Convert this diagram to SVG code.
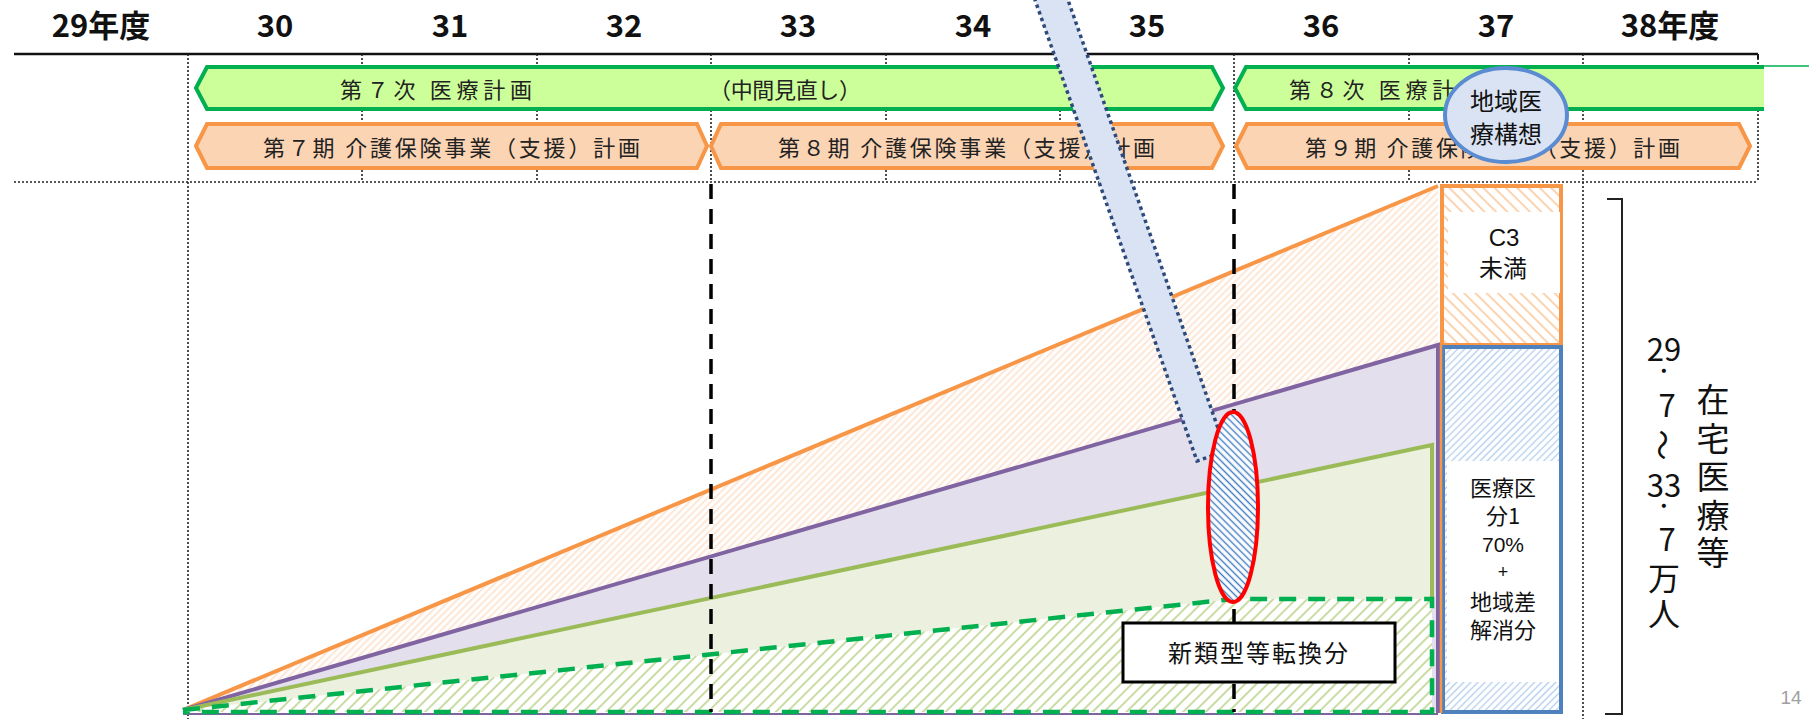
<svg xmlns="http://www.w3.org/2000/svg" width="1809" height="720" viewBox="0 0 1809 720">
<style>
.hdr{font-family:"Noto Sans CJK JP","Noto Sans",sans-serif;font-weight:bold;font-size:31px;fill:#111;text-anchor:middle}
.bt{font-family:"Noto Sans CJK JP","Noto Sans",sans-serif;font-size:22px;fill:#222;dominant-baseline:central}
.jt{font-family:"Noto Sans CJK JP","Noto Sans",sans-serif;fill:#111;text-anchor:middle}
.lat{font-family:"Liberation Sans",Arial,sans-serif}
.dot{stroke:#222;stroke-width:1.6;stroke-dasharray:2 2;fill:none}
.bdash{stroke:#000;stroke-width:3.5;stroke-dasharray:15 10;fill:none}
.gbar{fill:#ccff99;stroke:#00b050;stroke-width:4;stroke-linejoin:miter}
.obar{fill:#fbd4b4;stroke:#f79646;stroke-width:4;stroke-linejoin:miter}
</style>
<defs>
<pattern id="hOr" patternUnits="userSpaceOnUse" width="5" height="5" patternTransform="rotate(45)"><rect width="5" height="5" fill="#fff"/><line x1="2.5" y1="0" x2="2.5" y2="5" stroke="#fde0ca" stroke-width="1.6"/></pattern>
<pattern id="hC3" patternUnits="userSpaceOnUse" width="8" height="8" patternTransform="rotate(-45)"><rect width="8" height="8" fill="#fff"/><line x1="4" y1="0" x2="4" y2="8" stroke="#fbd3b0" stroke-width="2"/></pattern>
<pattern id="hGr" patternUnits="userSpaceOnUse" width="8" height="8" patternTransform="rotate(45)"><rect width="8" height="8" fill="#fff"/><line x1="4" y1="0" x2="4" y2="8" stroke="#c9dca3" stroke-width="2"/></pattern>
<pattern id="hBl" patternUnits="userSpaceOnUse" width="5" height="5" patternTransform="rotate(45)"><rect width="5" height="5" fill="#fff"/><line x1="2.5" y1="0" x2="2.5" y2="5" stroke="#b3cdee" stroke-width="1.3"/></pattern>
<pattern id="hBd" patternUnits="userSpaceOnUse" width="5" height="5" patternTransform="rotate(-45)"><rect width="5" height="5" fill="#fff"/><line x1="2.5" y1="0" x2="2.5" y2="5" stroke="#3f7cc2" stroke-width="1.4"/></pattern>
</defs>
<rect width="1809" height="720" fill="#fff"/>

<g id="grid">
<line x1="14" y1="54" x2="1758" y2="54" stroke="#111" stroke-width="2.5"/>
<line x1="1758" y1="54" x2="1758" y2="59" stroke="#111" stroke-width="2"/>
<line class="dot" x1="14" y1="182" x2="1758" y2="182"/>
<line class="dot" x1="1758" y1="54" x2="1758" y2="182"/>
<line class="dot" x1="188" y1="54" x2="188" y2="719"/>
<line class="dot" x1="1583" y1="54" x2="1583" y2="719"/>
<line class="dot" x1="362" y1="54" x2="362" y2="182"/>
<line class="dot" x1="537" y1="54" x2="537" y2="182"/>
<line class="dot" x1="711" y1="54" x2="711" y2="182"/>
<line class="dot" x1="886" y1="54" x2="886" y2="182"/>
<line class="dot" x1="1060" y1="54" x2="1060" y2="182"/>
<line class="dot" x1="1234" y1="54" x2="1234" y2="182"/>
<line class="dot" x1="1409" y1="54" x2="1409" y2="182"/>
</g>

<g id="years">
<text class="hdr" x="101" y="37">29年度</text>
<text class="hdr" x="275" y="37">30</text>
<text class="hdr" x="450" y="37">31</text>
<text class="hdr" x="624" y="37">32</text>
<text class="hdr" x="798" y="37">33</text>
<text class="hdr" x="973" y="37">34</text>
<text class="hdr" x="1147" y="37">35</text>
<text class="hdr" x="1321" y="37">36</text>
<text class="hdr" x="1496" y="37">37</text>
<text class="hdr" x="1670" y="37">38年度</text>
</g>

<g id="iryo7">
<polygon class="gbar" points="196,88 207,67 1212,67 1223,88 1212,109 207,109"/>
<text class="bt" x="340" y="88" textLength="192" lengthAdjust="spacing">第７次 医療計画</text>
<text class="bt" x="709" y="88" textLength="152" lengthAdjust="spacing">（中間見直し）</text>
</g>
<g id="iryo8">
<polygon points="1235,88 1246,67 1764,67 1764,109 1246,109" fill="#ccff99"/>
<path d="M1764,67 H1246 L1235,88 L1246,109 H1764" fill="none" stroke="#00b050" stroke-width="4"/>
<line x1="1764" y1="66" x2="1809" y2="66" stroke="#00b050" stroke-width="1.5"/>
<text class="bt" x="1289" y="88" textLength="192" lengthAdjust="spacing">第８次 医療計画</text>
</g>
<g id="kaigo7">
<polygon class="obar" points="196,146 207,124 697,124 707,146 697,168 207,168"/>
<text class="bt" x="263" y="146" textLength="377" lengthAdjust="spacing">第７期 介護保険事業（支援）計画</text>
</g>
<g id="kaigo8">
<polygon class="obar" points="711,146 721,124 1212,124 1223,146 1212,168 721,168"/>
<text class="bt" x="778" y="146" textLength="377" lengthAdjust="spacing">第８期 介護保険事業（支援）計画</text>
</g>
<g id="kaigo9">
<polygon class="obar" points="1236,146 1247,124 1739,124 1750,146 1739,168 1247,168"/>
<text class="bt" x="1305" y="146" textLength="375" lengthAdjust="spacing">第９期 介護保険事業（支援）計画</text>
</g>

<g id="chart">
<polygon points="183,710 1438,186 1438,712 183,712" fill="url(#hOr)"/>
<polygon points="183,710 1438,345 1438,712 183,712" fill="#e4dfec"/>
<polygon points="183,710 1432,445 1432,712 183,712" fill="#ebf1de"/>
<polygon points="183,710 1234,599 1432,599 1432,712 183,712" fill="url(#hGr)"/>
<line x1="183" y1="714" x2="1438" y2="714" stroke="#8064a2" stroke-width="2"/>
<polyline points="183,710 1438,186" fill="none" stroke="#f79646" stroke-width="4"/>
<polyline points="183,710 1438,345 1438,713" fill="none" stroke="#8064a2" stroke-width="4"/>
<polyline points="183,710 1432,445 1432,599" fill="none" stroke="#9bbb59" stroke-width="4"/>
<path d="M183,710 L1234,599 H1432 V712 H183" fill="none" stroke="#00b050" stroke-width="4.5" stroke-dasharray="17 12"/>
</g>

<g id="c3box">
<rect x="1442" y="186" width="119" height="159" fill="url(#hC3)" stroke="#f79646" stroke-width="4"/>
<rect x="1448" y="212" width="112" height="81" fill="#fff"/>
<text class="jt" font-size="24"><tspan class="lat" x="1504" y="246">C3</tspan><tspan x="1503" y="277">未満</tspan></text>
</g>
<g id="kubun1box">
<rect x="1443" y="347" width="118" height="365" fill="url(#hBl)" stroke="#4f81bd" stroke-width="4"/>
<rect x="1447" y="461" width="112" height="221" fill="#fff"/>
<line x1="1441" y1="345" x2="1441" y2="713" stroke="#f79646" stroke-width="2.5"/>
<text class="jt" font-size="22"><tspan x="1503" y="496">医療区</tspan><tspan x="1503" y="524">分1</tspan><tspan class="lat" x="1503" y="552" font-size="21">70%</tspan><tspan class="lat" x="1503" y="578" font-size="18">+</tspan><tspan x="1503" y="610">地域差</tspan><tspan x="1503" y="638">解消分</tspan></text>
</g>

<g id="connectors">
<line class="bdash" x1="711" y1="184" x2="711" y2="712"/>
<line class="bdash" x1="1234" y1="184" x2="1234" y2="712"/>
<polygon points="1028,-20 1061,-20 1226,451 1197,461" fill="#dae3f3" stroke="#2e4a7a" stroke-width="3.5" stroke-dasharray="3.5 3.5"/>
</g>

<g id="henkan">
<ellipse cx="1233" cy="507" rx="25" ry="95" fill="url(#hBd)" stroke="#ff0000" stroke-width="4"/>
</g>

<g id="shinruikei">
<rect x="1123" y="623" width="272" height="59" fill="#fff" stroke="#000" stroke-width="3"/>
<text class="jt" x="1258" y="662" font-size="24" textLength="180" lengthAdjust="spacing">新類型等転換分</text>
</g>

<g id="chiiki">
<ellipse cx="1506" cy="115" rx="61" ry="47" fill="#dae3f3" stroke="#5b8bd0" stroke-width="4"/>
<text class="jt" font-size="24"><tspan x="1506" y="110">地域医</tspan><tspan x="1506" y="143">療構想</tspan></text>
</g>

<g id="total">
<path d="M1607,199 H1622 V714 H1605" fill="none" stroke="#222" stroke-width="2"/>
<text class="jt" font-size="31"><tspan x="1664" y="361">29</tspan><tspan x="1664" y="382">·</tspan><tspan x="1667" y="417">7</tspan></text>
<text class="jt" x="1664" y="445" font-size="31" dominant-baseline="central" transform="rotate(90 1664 445)">～</text>
<text class="jt" font-size="31"><tspan x="1664" y="497">33</tspan><tspan x="1664" y="517">·</tspan><tspan x="1667" y="551">7</tspan><tspan x="1664" y="590" font-size="32">万</tspan><tspan x="1664" y="626" font-size="32">人</tspan></text>
<text class="jt" font-size="33"><tspan x="1713" y="412">在</tspan><tspan x="1713" y="451">宅</tspan><tspan x="1713" y="489">医</tspan><tspan x="1713" y="528">療</tspan><tspan x="1713" y="565">等</tspan></text>
</g>

<text x="1791" y="704" font-family="Liberation Sans, Arial, sans-serif" font-size="19" fill="#a0a0a0" text-anchor="middle">14</text>
</svg>
